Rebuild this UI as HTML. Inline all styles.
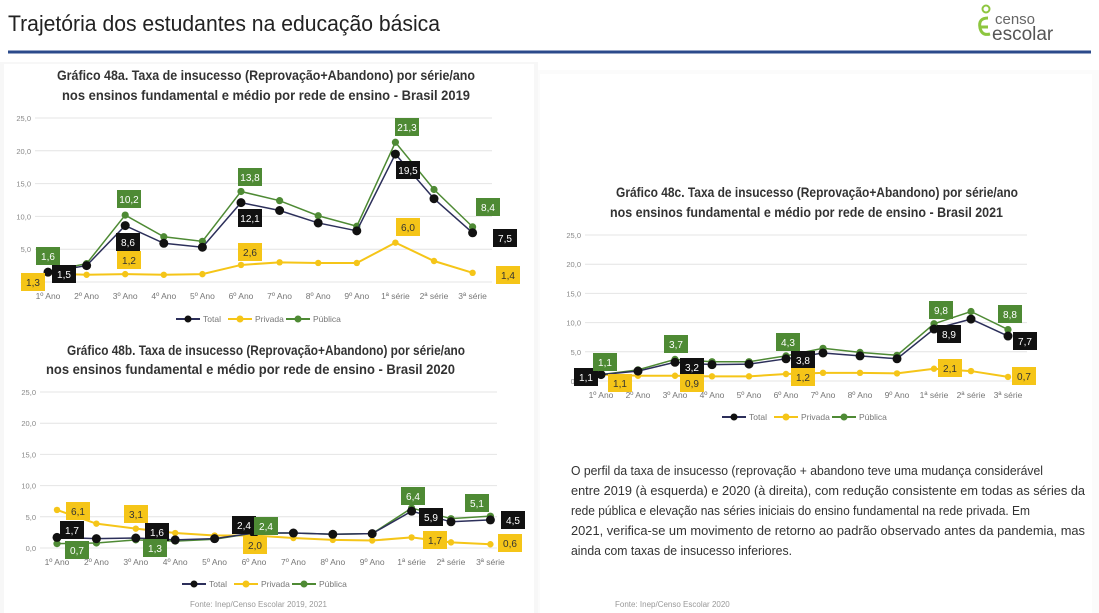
<!DOCTYPE html>
<html><head><meta charset="utf-8">
<style>
body{margin:0;width:1099px;height:613px;overflow:hidden;background:#fff;font-family:"Liberation Sans",sans-serif;}
svg{position:absolute;left:0;top:0}
</style></head>
<body>
<svg id="s" width="1099" height="613" xmlns="http://www.w3.org/2000/svg" font-family="Liberation Sans, sans-serif">
<rect x="0" y="0" width="1099" height="613" fill="#fff"/>
<rect x="0" y="62" width="538" height="551" fill="#f7f7f7"/>
<rect x="4" y="64" width="530" height="549" fill="#fff"/>
<rect x="538" y="70" width="561" height="543" fill="#fbfbfb"/>
<rect x="540" y="74" width="552" height="539" fill="#fff"/>
<text x="8" y="31" font-size="22" fill="#222" textLength="432" lengthAdjust="spacingAndGlyphs">Trajetória dos estudantes na educação básica</text>
<line x1="8" y1="52" x2="1091" y2="52" stroke="#2b4a8b" stroke-width="3"/>
<circle cx="986" cy="9" r="3.5" fill="none" stroke="#8dc63f" stroke-width="2"/>
<path d="M988 18 Q978 18 980 28 Q982 36 990 34 M981 27 L988 27" fill="none" stroke="#8dc63f" stroke-width="3"/>
<text x="995" y="24" font-size="15" fill="#666">censo</text>
<text x="992" y="40" font-size="19" fill="#555">escolar</text>
<g font-weight="bold" font-size="14" fill="#333" lengthAdjust="spacingAndGlyphs">
<text x="57" y="80" textLength="418" lengthAdjust="spacingAndGlyphs">Gráfico 48a. Taxa de insucesso (Reprovação+Abandono) por série/ano</text>
<text x="62" y="100" textLength="408" lengthAdjust="spacingAndGlyphs">nos ensinos fundamental e médio por rede de ensino - Brasil 2019</text>
<text x="67" y="355" textLength="398" lengthAdjust="spacingAndGlyphs">Gráfico 48b. Taxa de insucesso (Reprovação+Abandono) por série/ano</text>
<text x="46" y="374" textLength="409" lengthAdjust="spacingAndGlyphs">nos ensinos fundamental e médio por rede de ensino - Brasil 2020</text>
<text x="616" y="197" textLength="402" lengthAdjust="spacingAndGlyphs">Gráfico 48c. Taxa de insucesso (Reprovação+Abandono) por série/ano</text>
<text x="610" y="217" textLength="393" lengthAdjust="spacingAndGlyphs">nos ensinos fundamental e médio por rede de ensino - Brasil 2021</text>
</g>
<g font-size="13.3" fill="#333">
<text x="571" y="475" textLength="472" lengthAdjust="spacingAndGlyphs">O perfil da taxa de insucesso (reprovação + abandono teve uma mudança considerável</text>
<text x="571" y="495" textLength="514" lengthAdjust="spacingAndGlyphs">entre 2019 (à esquerda) e 2020 (à direita), com redução consistente em todas as séries da</text>
<text x="571" y="515" textLength="459" lengthAdjust="spacingAndGlyphs">rede pública e elevação nas séries iniciais do ensino fundamental na rede privada. Em</text>
<text x="571" y="535" textLength="514" lengthAdjust="spacingAndGlyphs">2021, verifica-se um movimento de retorno ao padrão observado antes da pandemia, mas</text>
<text x="571" y="555" textLength="221" lengthAdjust="spacingAndGlyphs">ainda com taxas de insucesso inferiores.</text>
</g>
<g font-size="8" fill="#999">
<text x="190" y="607">Fonte: Inep/Censo Escolar 2019, 2021</text>
<text x="615" y="607">Fonte: Inep/Censo Escolar 2020</text>
</g>
<g id="charts"></g>
</svg>
<script>
const NS="http://www.w3.org/2000/svg",G=document.getElementById("charts");
function el(t,a,txt){const e=document.createElementNS(NS,t);for(const k in a)e.setAttribute(k,a[k]);if(txt!==undefined)e.textContent=txt;G.appendChild(e);return e;}
const C={t:"#111",p:"#f5c518",g:"#4e8a34"};
const cats1=["1º Ano","2º Ano","3º Ano","4º Ano","5º Ano","6º Ano","7º Ano","8º Ano","9º Ano","1ª série","2ª série","3ª série"];
function chart(o){
 const {x0,step,y0,y25,gx1,gx2,data,labels,legY}=o;
 const ys=v=>y0-(y0-y25)*v/25;
 for(let i=0;i<=5;i++){const y=ys(i*5);el("line",{x1:gx1,x2:gx2,y1:y,y2:y,stroke:"#e4e4e4","stroke-width":1});
  el("text",{x:gx1-4,y:y+3,"font-size":7.5,fill:"#888","text-anchor":"end"},(i*5).toFixed(1).replace(".",","));}
 cats1.forEach((c,i)=>el("text",{x:x0+i*step,y:y0+17,"font-size":8.5,fill:"#777","text-anchor":"middle"},c));
 [["p",2,3.2],["g",1.5,3.6],["t",1.5,4.5]].forEach(([k,w,r])=>{
  const pts=data[k].map((v,i)=>(x0+i*step)+","+ys(v)).join(" ");
  el("polyline",{points:pts,fill:"none",stroke:k=="t"?"#2c2f5a":C[k],"stroke-width":w});
  data[k].forEach((v,i)=>el("circle",{cx:x0+i*step,cy:ys(v),r:r,fill:C[k]}));
 });
 labels.forEach(([k,x,y,t])=>{el("rect",{x:x-12,y:y-9,width:24,height:18,fill:C[k]});
  el("text",{x:x,y:y+4,"font-size":10,fill:k=="p"?"#333":"#fff","text-anchor":"middle"},t);});
 const lx=o.legX;
 [["t","Total",0],["p","Privada",52],["g","Pública",110]].forEach(([k,n,d])=>{
  el("line",{x1:lx+d,x2:lx+d+24,y1:legY,y2:legY,stroke:k=="t"?"#2c2f5a":C[k],"stroke-width":2});
  el("circle",{cx:lx+d+12,cy:legY,r:3.5,fill:C[k]});
  el("text",{x:lx+d+27,y:legY+3,"font-size":8.5,fill:"#777"},n);});
}
chart({x0:48,step:38.6,y0:282,y25:118,gx1:35,gx2:492,legY:319,legX:176,
 data:{t:[1.5,2.5,8.6,5.9,5.3,12.1,10.9,9.0,7.8,19.5,12.7,7.5],g:[1.6,2.8,10.2,6.9,6.2,13.8,12.4,10.1,8.5,21.3,14.1,8.4],p:[1.3,1.1,1.2,1.1,1.2,2.6,3.0,2.9,2.9,6.0,3.2,1.4]},
 labels:[["g",48,256,"1,6"],["t",64,274,"1,5"],["p",33,282,"1,3"],["g",129,199,"10,2"],["t",128,242,"8,6"],["p",129,260,"1,2"],["g",250,177,"13,8"],["t",250,218,"12,1"],["p",250,252,"2,6"],["g",407,127,"21,3"],["t",408,170,"19,5"],["p",408,227,"6,0"],["g",488,207,"8,4"],["t",505,238,"7,5"],["p",508,275,"1,4"]]});
chart({x0:57,step:39.4,y0:548,y25:392,gx1:40,gx2:497,legY:584,legX:182,
 data:{t:[1.7,1.5,1.6,1.3,1.5,2.4,2.4,2.2,2.3,5.9,4.2,4.5],g:[0.7,0.8,1.3,1.1,1.4,2.4,2.4,2.2,2.3,6.4,4.7,5.1],p:[6.1,3.9,3.1,2.4,2.0,2.0,1.6,1.3,1.2,1.7,0.9,0.6]},
 labels:[["p",78,511,"6,1"],["t",72,530,"1,7"],["g",77,550,"0,7"],["p",136,514,"3,1"],["t",157,532,"1,6"],["g",155,548,"1,3"],["t",244,525,"2,4"],["g",266,526,"2,4"],["p",255,545,"2,0"],["g",413,496,"6,4"],["t",431,517,"5,9"],["p",435,540,"1,7"],["g",477,503,"5,1"],["t",513,520,"4,5"],["p",510,543,"0,6"]]});
chart({x0:601,step:37,y0:381,y25:235,gx1:585,gx2:1027,legY:417,legX:722,
 data:{t:[1.1,1.7,3.2,2.8,2.9,3.8,4.8,4.3,3.8,8.9,10.6,7.7],g:[1.1,1.9,3.7,3.3,3.3,4.3,5.6,4.9,4.4,9.8,11.9,8.8],p:[1.1,0.9,0.9,0.8,0.8,1.2,1.4,1.4,1.3,2.1,1.7,0.7]},
 labels:[["t",586,377,"1,1"],["g",605,362,"1,1"],["p",620,383,"1,1"],["g",676,344,"3,7"],["t",692,367,"3,2"],["p",692,383,"0,9"],["g",788,342,"4,3"],["t",803,360,"3,8"],["p",803,377,"1,2"],["g",941,310,"9,8"],["t",949,334,"8,9"],["p",950,368,"2,1"],["g",1010,314,"8,8"],["t",1025,341,"7,7"],["p",1024,376,"0,7"]]});
</script>
</body></html>
